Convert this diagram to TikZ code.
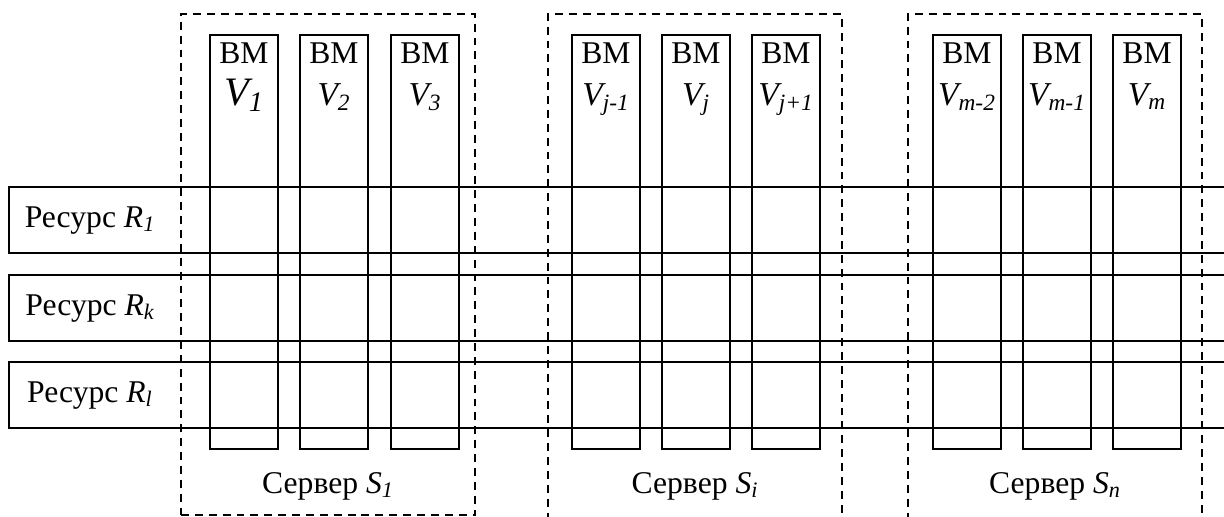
\documentclass[tikz,border=0pt]{standalone}
\usepackage{fontspec}
\setmainfont{Liberation Serif}
\begin{document}
\begin{tikzpicture}[
    vmbox/.style={draw, line width=1.1pt, minimum width=1.36cm, minimum height=8.28cm},
    srvbox/.style={draw, line width=1.1pt, dash pattern=on 4.5pt off 3.4pt, minimum width=5.88cm, minimum height=10.02cm},
    resbox/.style={draw, line width=1.1pt, anchor=west, minimum width=24.6cm, minimum height=1.32cm},
    txt/.style={anchor=base, font=\fontsize{18}{21}\selectfont}]
  \useasboundingbox (0,0) rectangle (24.48,-10.32);
  \clip (0,0) rectangle (24.48,-10.32);
  % servers
  \node[srvbox] (s1) at (6.56,-5.29) {};
  \node[srvbox, minimum height=10.2cm] (si) at (13.90,-5.38) {};
  \node[srvbox, minimum height=10.2cm] (sn) at (21.10,-5.38) {};
  % resources
  \node[resbox] (r1) at (0.16,-4.40) {};
  \node[resbox] (rk) at (0.16,-6.16) {};
  \node[resbox] (rl) at (0.16,-7.90) {};
  % virtual machines
  \foreach \name/\x/\sub/\sz in {vm1/4.88/1/23, vm2/6.68/2/19, vm3/8.50/3/19, vm4/12.12/j-1/19, vm5/13.92/j/19, vm6/15.72/j+1/19, vm7/19.34/m-2/19, vm8/21.14/m-1/19, vm9/22.94/m/19} {
    \node[vmbox] (\name) at (\x,-4.84) {};
    \node[txt] at ([yshift=-0.58cm]\name.north) {ВМ};
    \node[txt, font=\fontsize{\sz}{\sz}\selectfont] at ([yshift=-1.42cm]\name.north) {\textit{V\textsubscript{\sub}}};
  }
  % labels
  \node[txt] (l1) at ([xshift=1.64cm,yshift=-0.14cm]r1.west) {Ресурс \textit{R\textsubscript{1}}};
  \node[txt] (lk) at ([xshift=1.64cm,yshift=-0.14cm]rk.west) {Ресурс \textit{R\textsubscript{k}}};
  \node[txt] (ll) at ([xshift=1.64cm,yshift=-0.14cm]rl.west) {Ресурс \textit{R\textsubscript{l}}};
  \node[txt] (m1) at (s1 |- 0,-9.86) {Сервер \textit{S\textsubscript{1}}};
  \node[txt] (mi) at (si |- 0,-9.86) {Сервер \textit{S\textsubscript{i}}};
  \node[txt] (mn) at (sn |- 0,-9.86) {Сервер \textit{S\textsubscript{n}}};
\end{tikzpicture}
\end{document}
